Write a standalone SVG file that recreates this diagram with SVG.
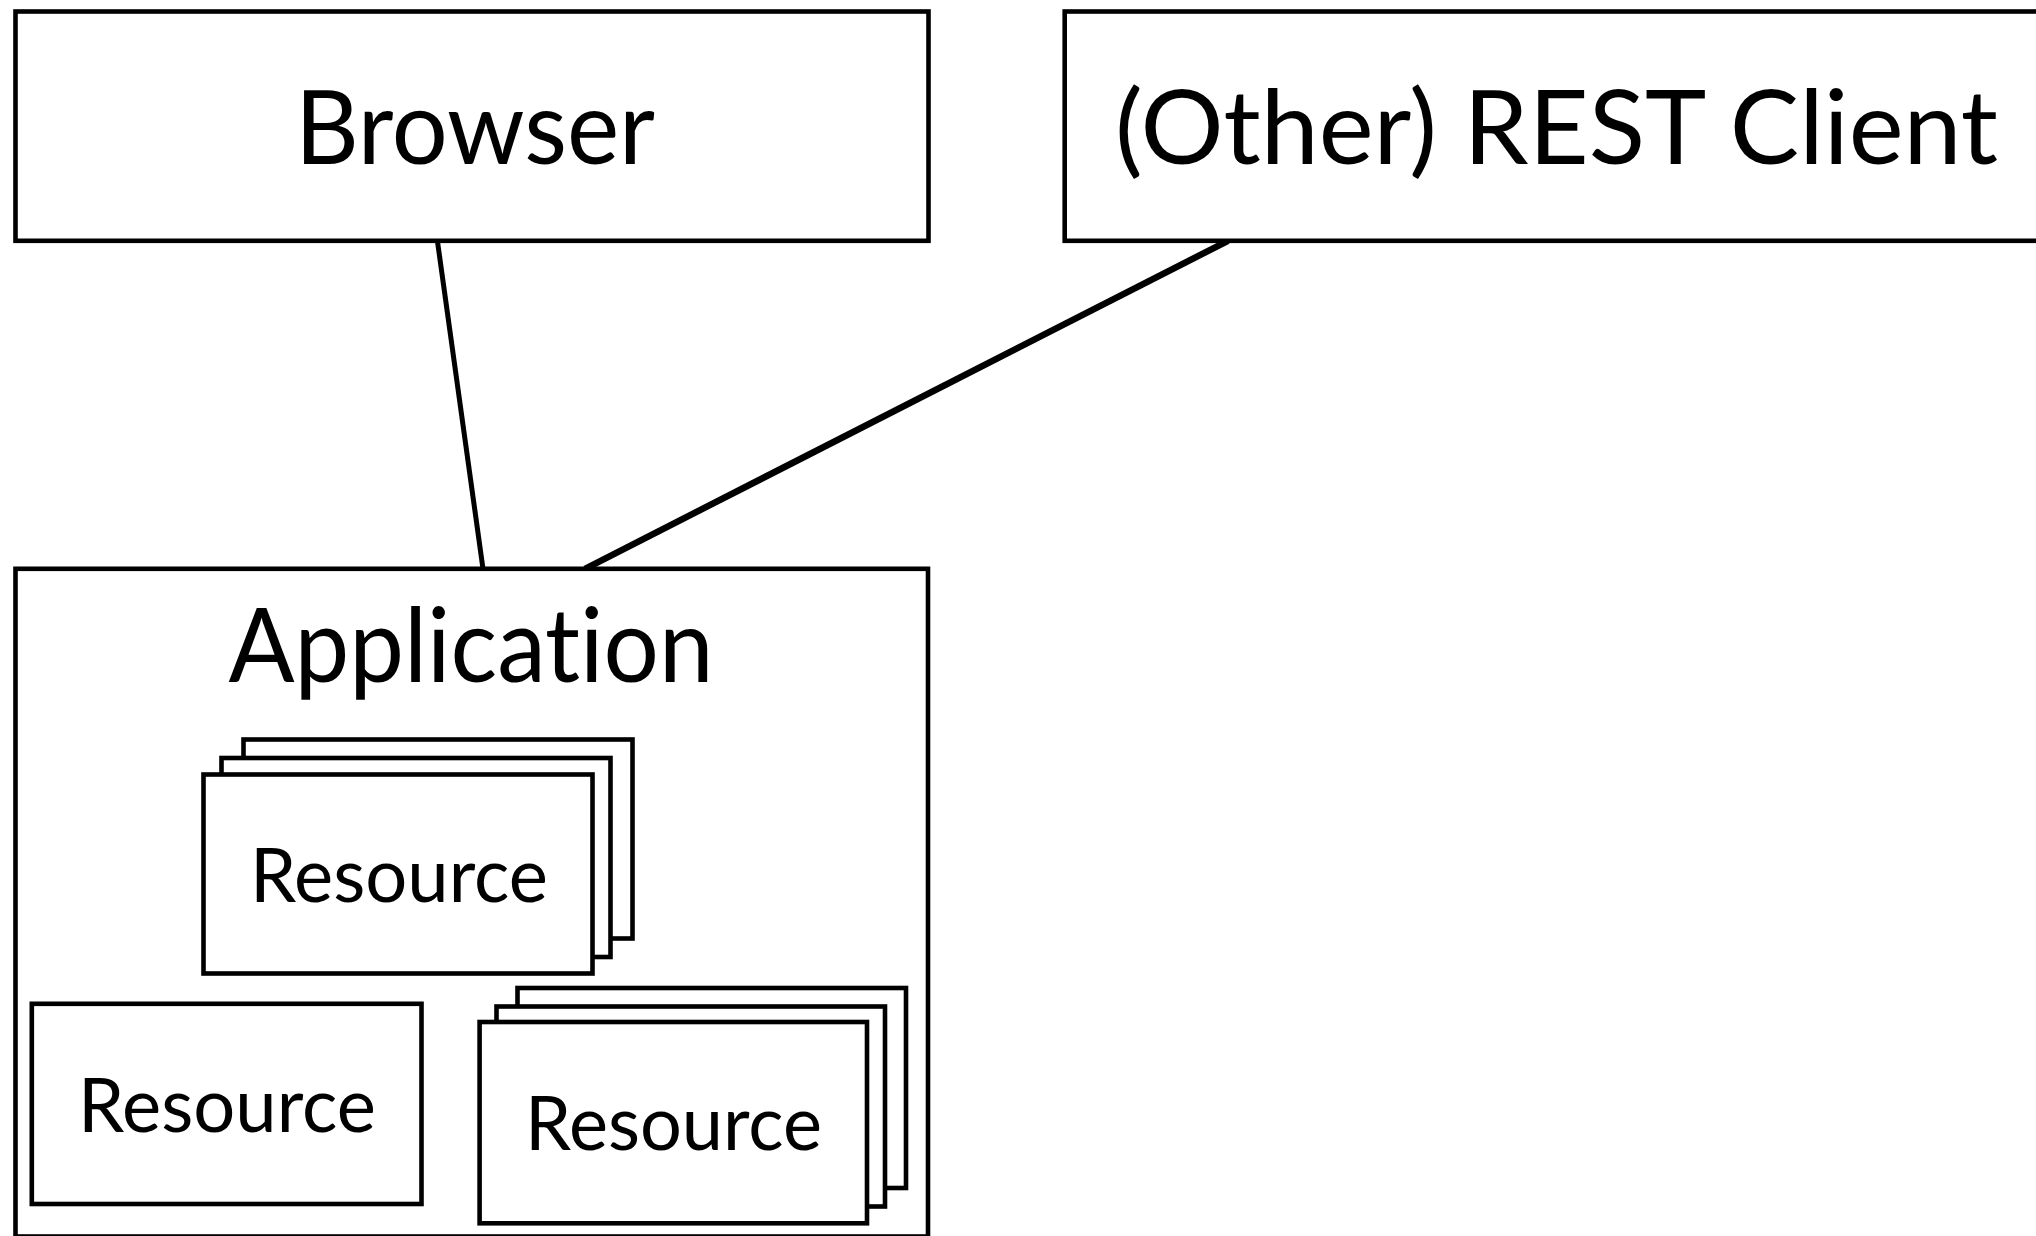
<svg xmlns="http://www.w3.org/2000/svg" width="2036" height="1236" viewBox="0 0 2036 1236">
  <style>
    .box { fill: #ffffff; stroke: #000000; stroke-width: 4.6; }
    .link { stroke: #000000; fill: none; }
    .big { font-family: Lato, "Liberation Sans", sans-serif; font-size: 102px; fill: #000000; font-variant-ligatures: none; }
    .small { font-family: Lato, "Liberation Sans", sans-serif; font-size: 75px; fill: #000000; font-variant-ligatures: none; }
  </style>
  <rect width="2036" height="1236" fill="#ffffff"/>

  <!-- connectors between clients and the application -->
  <g id="connectors">
    <line class="link" x1="437.4" y1="240.8" x2="483" y2="568.8" stroke-width="5"/>
    <line class="link" x1="1228" y1="240.8" x2="585" y2="568.8" stroke-width="6.5"/>
  </g>

  <g id="browser">
    <rect class="box" x="15.5" y="11.5" width="913" height="229.3"/>
    <text class="big" x="295" y="163.5" textLength="360" lengthAdjust="spacingAndGlyphs">Browser</text>
  </g>

  <g id="rest-client">
    <rect class="box" x="1064.7" y="11.5" width="1000" height="229.3"/>
    <text class="big" x="1115" y="163.5" textLength="883" lengthAdjust="spacingAndGlyphs">(Other) REST Client</text>
  </g>

  <g id="application">
    <rect class="box" x="15.5" y="568.8" width="912.5" height="667.7"/>
    <text class="big" x="228.5" y="682" textLength="485" lengthAdjust="spacingAndGlyphs">Application</text>
  </g>

  <!-- stacked resources (several instances) -->
  <g id="resource-stack-top">
    <rect class="box" x="243.5" y="739.5" width="389" height="199"/>
    <rect class="box" x="221.5" y="758" width="389" height="199"/>
    <rect class="box" x="203.5" y="774.5" width="389" height="199"/>
    <text class="small" x="250" y="902" textLength="298" lengthAdjust="spacingAndGlyphs">Resource</text>
  </g>

  <g id="resource-single">
    <rect class="box" x="31.8" y="1003.8" width="389.7" height="200.2"/>
    <text class="small" x="78" y="1132" textLength="298" lengthAdjust="spacingAndGlyphs">Resource</text>
  </g>

  <g id="resource-stack-bottom">
    <rect class="box" x="517.5" y="988" width="388.5" height="200"/>
    <rect class="box" x="496.5" y="1006.5" width="388.5" height="200"/>
    <rect class="box" x="479.6" y="1022" width="387.4" height="201.3"/>
    <text class="small" x="525" y="1150" textLength="297" lengthAdjust="spacingAndGlyphs">Resource</text>
  </g>
</svg>
